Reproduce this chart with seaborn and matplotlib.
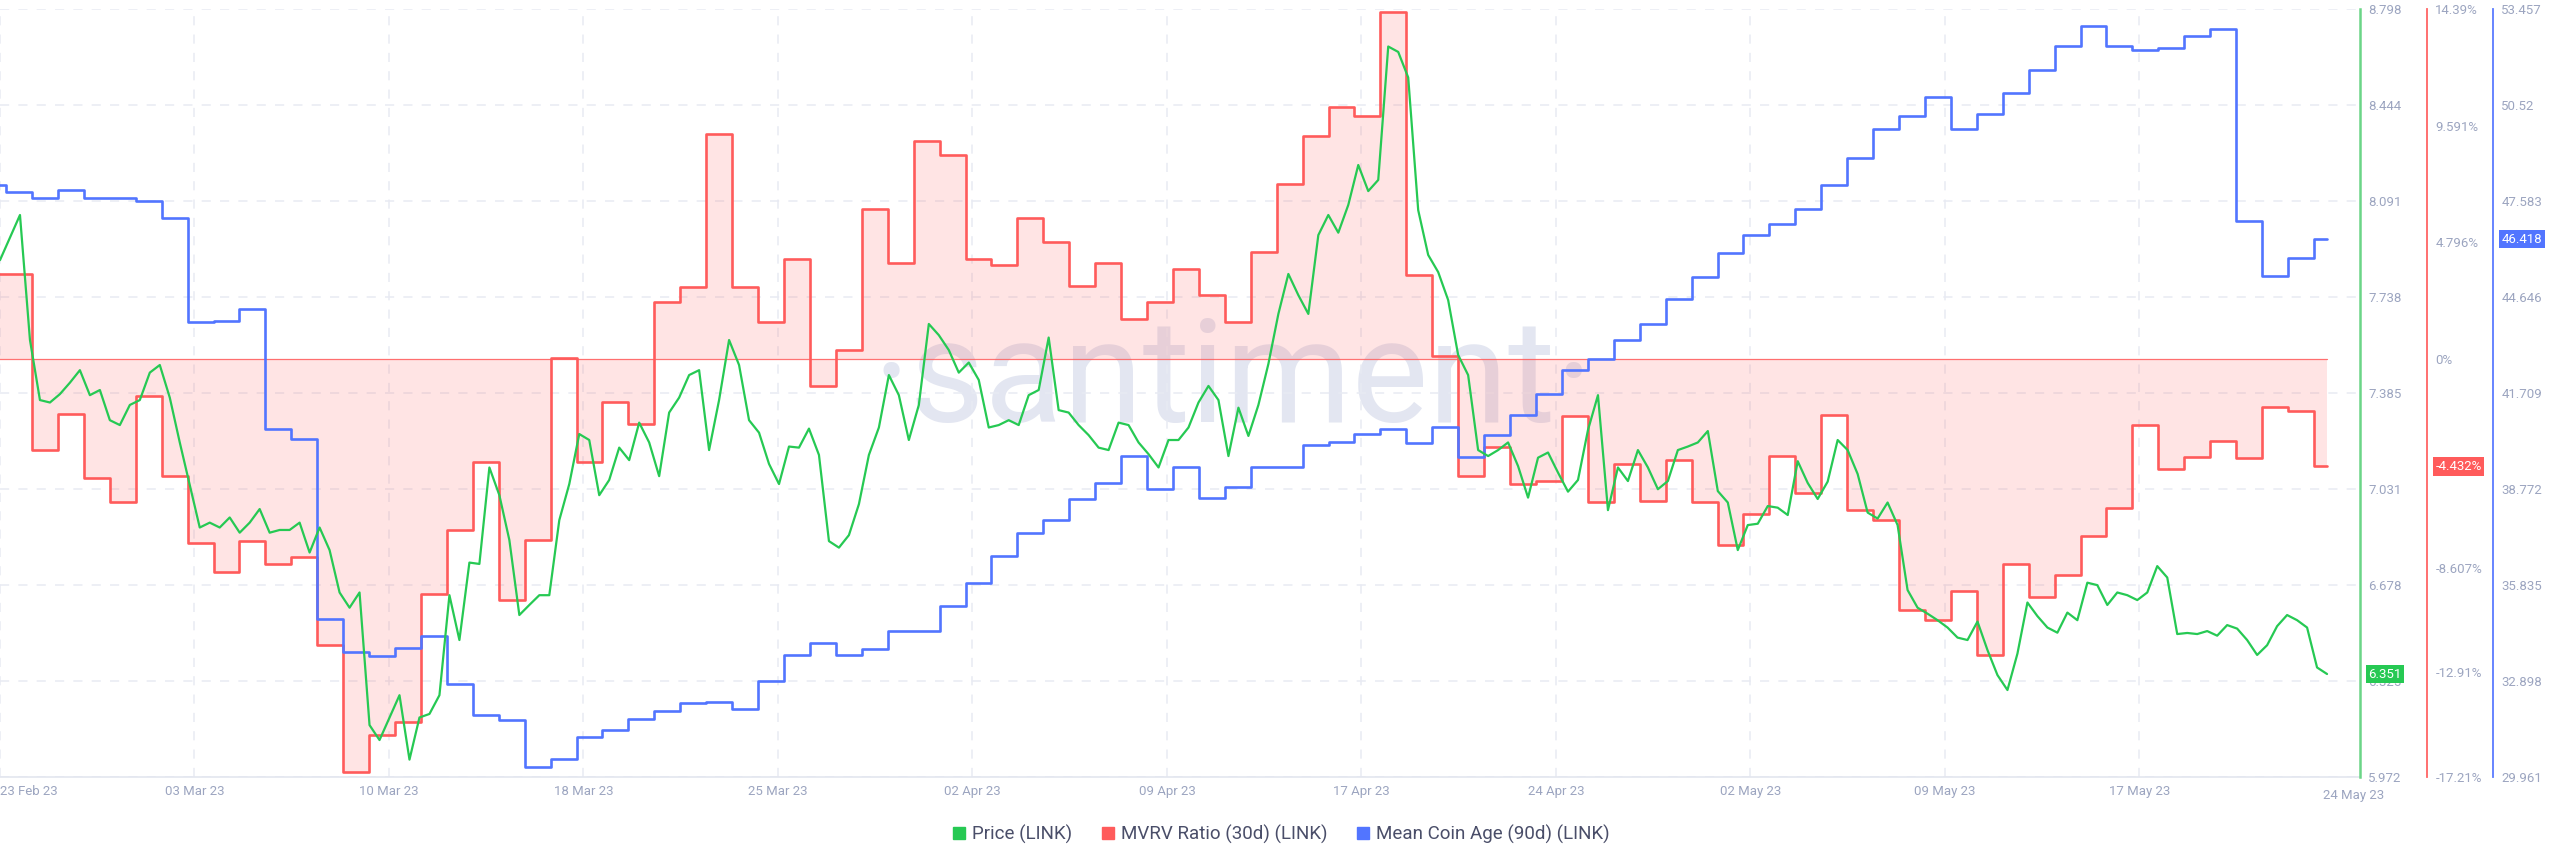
import numpy as np
import pandas as pd
import matplotlib
matplotlib.use("Agg")
import matplotlib.pyplot as plt
import matplotlib.transforms as mtransforms
from matplotlib.lines import Line2D
import seaborn as sns

sns.set_theme(style="white")
plt.rcParams['font.family'] = ['Roboto', 'DejaVu Sans']

# ---------------- data ----------------
chart_start = pd.Timestamp("2023-02-23 00:00")
chart_end = pd.Timestamp("2023-05-25 00:15")
price_end = pd.Timestamp("2023-05-23 17:45")
daily_start = pd.Timestamp("2023-02-22 05:37")

price = [
    7.874, 7.957, 8.040, 7.580, 7.359, 7.350, 7.381, 7.423, 7.469, 7.377, 7.396, 7.285, 7.267,
    7.341, 7.359, 7.460, 7.488, 7.368, 7.203, 7.046, 6.890, 6.908, 6.890, 6.927, 6.871, 6.908,
    6.958, 6.871, 6.881, 6.881, 6.908, 6.798, 6.890, 6.807, 6.651, 6.595, 6.651, 6.163, 6.108,
    6.191, 6.273, 6.036, 6.191, 6.204, 6.273, 6.641, 6.476, 6.761, 6.756, 7.111, 7.009, 6.844,
    6.568, 6.605, 6.641, 6.641, 6.917, 7.050, 7.234, 7.212, 7.009, 7.065, 7.184, 7.138, 7.276,
    7.203, 7.079, 7.313, 7.368, 7.451, 7.469, 7.175, 7.359, 7.580, 7.488, 7.285, 7.239, 7.124,
    7.050, 7.188, 7.184, 7.254, 7.157, 6.840, 6.816, 6.862, 6.976, 7.157, 7.258, 7.451, 7.377,
    7.212, 7.341, 7.639, 7.598, 7.543, 7.460, 7.497, 7.433, 7.258, 7.267, 7.285, 7.267, 7.377,
    7.396, 7.589, 7.322, 7.313, 7.267, 7.230, 7.184, 7.175, 7.276, 7.267, 7.203, 7.160, 7.111,
    7.212, 7.212, 7.258, 7.350, 7.411, 7.359, 7.153, 7.331, 7.227, 7.341, 7.492, 7.676, 7.823,
    7.745, 7.676, 7.966, 8.040, 7.975, 8.077, 8.224, 8.128, 8.169, 8.660, 8.640, 8.546, 8.058,
    7.893, 7.830, 7.727, 7.525, 7.451, 7.175, 7.153, 7.175, 7.203, 7.116, 7.000, 7.147, 7.166,
    7.092, 7.022, 7.065, 7.249, 7.377, 6.954, 7.111, 7.061, 7.175, 7.111, 7.031, 7.061, 7.175,
    7.188, 7.203, 7.245, 7.024, 6.982, 6.807, 6.899, 6.904, 6.969, 6.963, 6.936, 7.134, 7.054,
    6.995, 7.059, 7.212, 7.175, 7.087, 6.945, 6.923, 6.982, 6.899, 6.660, 6.595, 6.573, 6.549,
    6.522, 6.485, 6.476, 6.544, 6.439, 6.347, 6.292, 6.426, 6.614, 6.564, 6.522, 6.503, 6.577,
    6.549, 6.687, 6.678, 6.605, 6.651, 6.641, 6.623, 6.651, 6.748, 6.706, 6.498, 6.502, 6.498,
    6.509, 6.492, 6.531, 6.518, 6.476, 6.421, 6.457, 6.527, 6.568, 6.549, 6.522, 6.375, 6.351,
]

mvrv = [
    3.50, 3.50, -3.74, -2.26, -4.91, -5.90, -1.54, -4.83, -7.59, -8.78, -7.48, -8.43, -8.16,
    -11.76, -17.00, -15.50, -14.95, -9.70, -7.03, -4.26, -9.91, -7.44, 0.05, -4.26, -1.79,
    -2.67, 2.32, 2.94, 9.25, 2.94, 1.50, 4.11, -1.11, 0.37, 6.17, 3.93, 8.94, 8.39, 4.11,
    3.87, 5.78, 4.79, 2.98, 3.93, 1.64, 2.32, 3.70, 2.63, 1.50, 4.38, 7.20, 9.17, 10.34,
    9.99, 14.25, 3.45, 0.12, -4.81, -3.64, -5.14, -5.02, -2.34, -5.90, -4.32, -5.86, -4.15,
    -5.90, -7.65, -6.37, -3.99, -5.53, -2.30, -6.21, -6.62, -10.32, -10.73, -9.56, -12.21,
    -8.43, -9.81, -8.88, -7.28, -6.15, -2.71, -4.52, -4.05, -3.39, -4.09, -1.99, -2.16, -4.432,
]

coin_age = [
    48.07, 47.87, 47.69, 47.92, 47.69, 47.69, 47.57, 47.05, 43.87, 43.91, 44.29, 40.61, 40.30,
    34.81, 33.77, 33.66, 33.92, 34.26, 32.81, 31.86, 31.70, 30.28, 30.51, 31.17, 31.40, 31.74,
    31.98, 32.24, 32.27, 32.04, 32.90, 33.69, 34.05, 33.69, 33.88, 34.43, 34.43, 35.19, 35.91,
    36.72, 37.44, 37.82, 38.47, 38.96, 39.77, 38.77, 39.43, 38.51, 38.82, 39.46, 39.46, 40.12,
    40.21, 40.45, 40.62, 40.19, 40.68, 39.74, 40.42, 41.04, 41.68, 42.41, 42.76, 43.33, 43.82,
    44.58, 45.27, 45.98, 46.54, 46.89, 47.34, 48.07, 48.90, 49.80, 50.17, 50.78, 49.79, 50.24,
    50.89, 51.59, 52.34, 52.94, 52.33, 52.19, 52.26, 52.63, 52.86, 46.96, 45.30, 45.84, 46.418,
]

price_ticks = [8.798, 8.444, 8.091, 7.738, 7.385, 7.031, 6.678, 6.325, 5.972]
price_ticklabels = ["8.798", "8.444", "8.091", "7.738", "7.385", "7.031", "6.678", "6.325", "5.972"]
mvrv_ticks = [14.39, 9.591, 4.796, 0.0, -8.607, -12.91, -17.21]
mvrv_ticklabels = ["14.39%", "9.591%", "4.796%", "0%", "-8.607%", "-12.91%", "-17.21%"]
age_ticks = [53.457, 50.52, 47.583, 44.646, 41.709, 38.772, 35.835, 32.898, 29.961]
age_ticklabels = ["53.457", "50.52", "47.583", "44.646", "41.709", "38.772", "35.835", "32.898", "29.961"]

date_ticklabels = ["23 Feb 23", "03 Mar 23", "10 Mar 23", "18 Mar 23", "25 Mar 23", "02 Apr 23",
                   "09 Apr 23", "17 Apr 23", "24 Apr 23", "02 May 23", "09 May 23", "17 May 23"]
date_tick_step = pd.Timedelta(hours=180)
end_label = "24 May 23"
end_label_date = pd.Timestamp("2023-05-24 17:50")

series_names = ["Price (LINK)", "MVRV Ratio (30d) (LINK)", "Mean Coin Age (90d) (LINK)"]

# ---------------- styles ----------------
GREEN = "#26c953"
RED = "#ff5b5b"
BLUE = "#5275ff"
TICK_C = "#9ca5c0"
GRID_C = "#e8ebf3"

price_dates = pd.date_range(chart_start, price_end, periods=len(price))
daily_dates = pd.date_range(daily_start, periods=len(mvrv), freq="D")
step_dates = list(daily_dates) + [price_end]
mvrv_ext = mvrv + [mvrv[-1]]
age_ext = coin_age + [coin_age[-1]]

df_price = pd.DataFrame({"date": price_dates, "price": price})
df_mvrv = pd.DataFrame({"date": step_dates, "mvrv": mvrv_ext})
df_age = pd.DataFrame({"date": step_dates, "age": age_ext})

W, H = 2560, 867
fig = plt.figure(figsize=(W / 100, H / 100), dpi=100, facecolor="white")
ax_m = fig.add_axes([0, 90 / H, 2360 / W, 768 / H])
ax_b = ax_m.twinx()
ax_p = ax_m.twinx()

for a in (ax_b, ax_p):
    a.patch.set_visible(False)

ax_m.set_xlim(chart_start, chart_end)
ax_m.set_ylim(min(mvrv_ticks), max(mvrv_ticks))
ax_b.set_ylim(min(age_ticks), max(age_ticks))
ax_p.set_ylim(min(price_ticks), max(price_ticks))

# watermark
ax_m.text(1233 / 2360, (777 - 422) / 768, "·santiment·", transform=ax_m.transAxes,
          ha="center", va="baseline", fontsize=104, color="#e3e6f1", zorder=0)

# vertical grid
xt = [chart_start + date_tick_step * i for i in range(len(date_ticklabels))]
for d in xt:
    ax_m.axvline(d, color=GRID_C, lw=1.1, ls=(0, (6, 6)), zorder=0.4)
# horizontal grid at price ticks
btrans = mtransforms.blended_transform_factory(ax_m.transAxes, ax_p.transData)
for t in price_ticks:
    ax_m.plot([0, 1], [t, t], transform=btrans, color=GRID_C, lw=1.1, ls=(0, (6, 6)), zorder=0.4)

# MVRV
ax_m.fill_between(df_mvrv["date"], df_mvrv["mvrv"], 0, step="post", color=RED, alpha=0.16, lw=0, zorder=1)
ax_m.plot([step_dates[0], step_dates[-1]], [0, 0], color=RED, lw=0.9, alpha=0.85, zorder=1.5)
sns.lineplot(data=df_mvrv, x="date", y="mvrv", ax=ax_m, color=RED, lw=1.9,
             drawstyle="steps-post", zorder=2, legend=False)

# Coin age
sns.lineplot(data=df_age, x="date", y="age", ax=ax_b, color=BLUE, lw=1.9,
             drawstyle="steps-post", legend=False)

# Price
sns.lineplot(data=df_price, x="date", y="price", ax=ax_p, color=GREEN, lw=1.6, legend=False)

for a in (ax_m, ax_b, ax_p):
    a.set_xlabel("")
    a.set_ylabel("")
    for s in ("left", "top", "bottom"):
        a.spines[s].set_visible(False)
    a.grid(False)

ax_m.spines["bottom"].set_visible(True)
ax_m.spines["bottom"].set_color("#e3e6ef")
ax_m.spines["bottom"].set_linewidth(1.2)

# y axes
ax_m.yaxis.tick_right()
ax_m.spines["right"].set_position(("axes", 2427 / 2360))
ax_m.spines["right"].set_color("#ff6464")
ax_m.spines["right"].set_linewidth(1.3)
ax_b.spines["right"].set_position(("axes", 2493 / 2360))
ax_b.spines["right"].set_color("#5a7bff")
ax_b.spines["right"].set_linewidth(1.3)
ax_p.spines["right"].set_color("#6bd587")
ax_p.spines["right"].set_linewidth(1.8)

ax_m.set_yticks(mvrv_ticks)
ax_m.set_yticklabels(mvrv_ticklabels)
ax_b.set_yticks(age_ticks)
ax_b.set_yticklabels(age_ticklabels)
ax_p.set_yticks(price_ticks)
ax_p.set_yticklabels(price_ticklabels)
for a in (ax_m, ax_b, ax_p):
    a.tick_params(axis="y", which="both", left=False, right=True, labelleft=False, labelright=True,
                  length=0, pad=6, labelsize=9.5, labelcolor=TICK_C)

# x axis
ax_m.set_xticks(xt)
ax_m.set_xticklabels(date_ticklabels)
ax_m.tick_params(axis="x", length=0, pad=6, labelsize=9.5, labelcolor=TICK_C)
ax_m.get_xticklabels()[0].set_ha("left")
ax_b.tick_params(axis="x", bottom=False, labelbottom=False)
ax_p.tick_params(axis="x", bottom=False, labelbottom=False)
xtrans = mtransforms.blended_transform_factory(ax_m.transData, ax_m.transAxes)
ax_m.text(end_label_date, -12 / 768, end_label, transform=xtrans, ha="center", va="top",
          fontsize=9.5, color=TICK_C, clip_on=False)

# last-value labels
def value_box(ax, value, text, color):
    tr = mtransforms.blended_transform_factory(ax.transAxes, ax.transData)
    xpos = ax.spines["right"].get_position()
    xa = xpos[1] if isinstance(xpos, tuple) and xpos[0] == "axes" else 1.0
    ax.annotate(text, xy=(xa, value), xycoords=tr, xytext=(6, 0), textcoords="offset points",
                ha="left", va="center", fontsize=9.5, color="white", zorder=10,
                annotation_clip=False,
                bbox=dict(boxstyle="square,pad=0.2", fc=color, ec="none"))

value_box(ax_p, price[-1], f"{price[-1]:.3f}", GREEN)
value_box(ax_m, mvrv[-1], f"{mvrv[-1]:.3f}%", RED)
value_box(ax_b, coin_age[-1], f"{coin_age[-1]:.3f}", BLUE)

# legend
handles = [Line2D([], [], marker="s", ls="", color=c, markersize=9) for c in (GREEN, RED, BLUE)]
fig.legend(handles, series_names, loc="center", bbox_to_anchor=(0.5, (867 - 834) / 867), ncol=3,
           frameon=False, fontsize=13.5, handletextpad=0.2, columnspacing=1.4,
           labelcolor="#4a4e69", handlelength=1.0)

fig.savefig("out.png", dpi=100, facecolor="white")
